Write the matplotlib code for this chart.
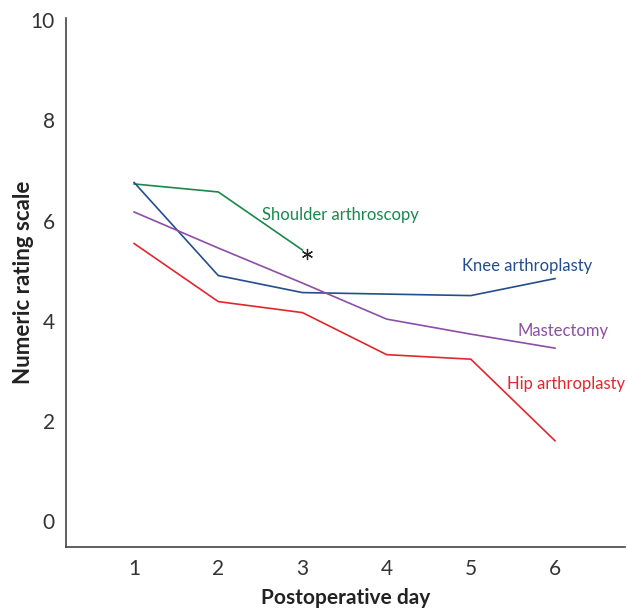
import numpy as np
import matplotlib.pyplot as plt

plt.rcParams['font.family'] = ['Lato', 'DejaVu Sans']

days = [1, 2, 3, 4, 5, 6]
shoulder_days = [1, 2, 3]
shoulder = [6.73, 6.57, 5.41]
knee = [6.76, 4.90, 4.56, 4.53, 4.50, 4.84]
mastectomy = [6.17, 5.45, 4.75, 4.03, 3.73, 3.45]
hip = [5.54, 4.38, 4.16, 3.32, 3.23, 1.60]

# significance marker next to the last shoulder point
star_x = [3.05]
star_y = [5.34]

green = '#18894a'
blue = '#234e8d'
purple = '#8c4ea6'
red = '#e1262d'

fig = plt.figure(figsize=(6.28, 6.09), dpi=100)
ax = fig.add_axes([0.105, 0.102, 0.89, 0.868])

ax.plot(shoulder_days, shoulder, color=green, lw=1.2)
ax.plot(days, knee, color=blue, lw=1.2)
ax.plot(days, mastectomy, color=purple, lw=1.2)
ax.plot(days, hip, color=red, lw=1.2)
ax.plot(star_x, star_y, ls='none', marker=(6, 2, 0), ms=8, mew=0.9, color='#222222')

ax.text(2.52, 6.11, 'Shoulder arthroscopy', color=green, fontsize=12, va='center')
ax.text(4.90, 5.09, 'Knee arthroplasty', color=blue, fontsize=12, va='center')
ax.text(5.56, 3.79, 'Mastectomy', color=purple, fontsize=12, va='center')
ax.text(5.43, 2.73, 'Hip arthroplasty', color=red, fontsize=12, va='center')

ax.set_xlim(0.19, 6.83)
ax.set_ylim(-0.52, 10.04)
ax.set_xticks(days)
ax.set_yticks([0, 2, 4, 6, 8, 10])
ax.tick_params(length=0, labelsize=15, colors='#333333', pad=9)
ax.tick_params(axis='y', pad=8)

for s in ['top', 'right']:
    ax.spines[s].set_visible(False)
for s in ['left', 'bottom']:
    ax.spines[s].set_color('#444444')
    ax.spines[s].set_linewidth(1.2)

ax.set_xlabel('Postoperative day', fontsize=15, fontweight='bold', color='#222222', labelpad=6)
ax.set_ylabel('Numeric rating scale', fontsize=16, fontweight='bold', color='#222222')
ax.yaxis.set_label_coords(-0.057, 0.5)

fig.savefig('out.png', dpi=100)
